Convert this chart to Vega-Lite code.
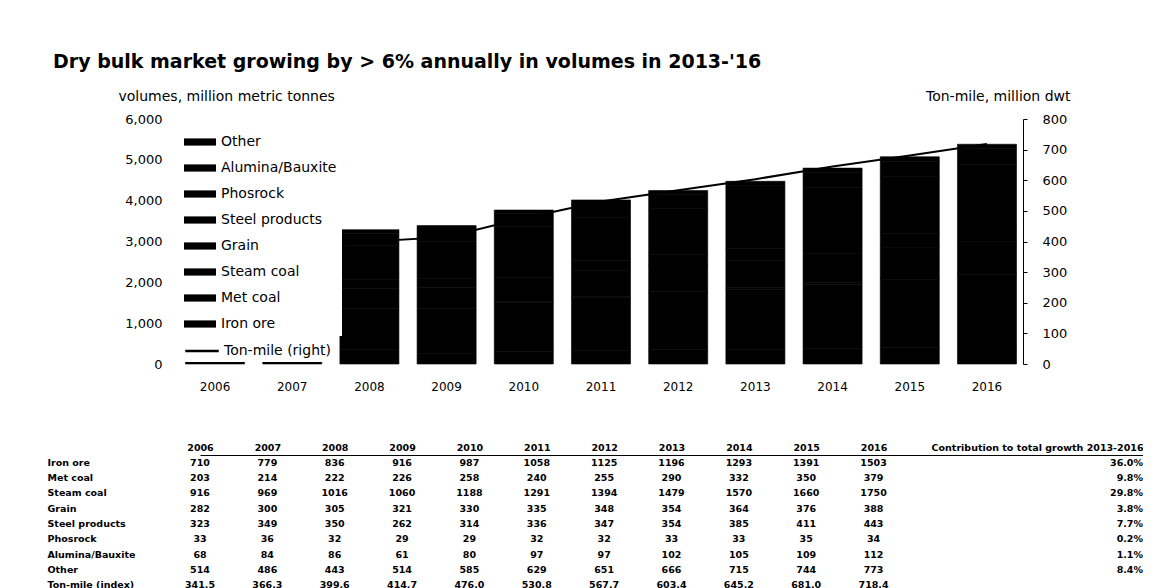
{
  "$schema": "https://vega.github.io/schema/vega-lite/v6.json",
  "background": "white",
  "padding": {"left": 47, "top": 53, "right": 0, "bottom": 0},
  "bounds": "flush",
  "spacing": 91,
  "title": {
    "text": "Dry bulk market growing by > 6% annually in volumes in 2013-'16",
    "anchor": "start",
    "font": "DejaVu Sans",
    "fontSize": 19,
    "fontWeight": "bold",
    "color": "black",
    "dx": 6,
    "offset": 17
  },
  "datasets": {
    "cargo": [
      {"cargo": "Iron ore", "2006": 710, "2007": 779, "2008": 836, "2009": 916, "2010": 987, "2011": 1058, "2012": 1125, "2013": 1196, "2014": 1293, "2015": 1391, "2016": 1503},
      {"cargo": "Met coal", "2006": 203, "2007": 214, "2008": 222, "2009": 226, "2010": 258, "2011": 240, "2012": 255, "2013": 290, "2014": 332, "2015": 350, "2016": 379},
      {"cargo": "Steam coal", "2006": 916, "2007": 969, "2008": 1016, "2009": 1060, "2010": 1188, "2011": 1291, "2012": 1394, "2013": 1479, "2014": 1570, "2015": 1660, "2016": 1750},
      {"cargo": "Grain", "2006": 282, "2007": 300, "2008": 305, "2009": 321, "2010": 330, "2011": 335, "2012": 348, "2013": 354, "2014": 364, "2015": 376, "2016": 388},
      {"cargo": "Steel products", "2006": 323, "2007": 349, "2008": 350, "2009": 262, "2010": 314, "2011": 336, "2012": 347, "2013": 354, "2014": 385, "2015": 411, "2016": 443},
      {"cargo": "Phosrock", "2006": 33, "2007": 36, "2008": 32, "2009": 29, "2010": 29, "2011": 32, "2012": 32, "2013": 33, "2014": 33, "2015": 35, "2016": 34},
      {"cargo": "Alumina/Bauxite", "2006": 68, "2007": 84, "2008": 86, "2009": 61, "2010": 80, "2011": 97, "2012": 97, "2013": 102, "2014": 105, "2015": 109, "2016": 112},
      {"cargo": "Other", "2006": 514, "2007": 486, "2008": 443, "2009": 514, "2010": 585, "2011": 629, "2012": 651, "2013": 666, "2014": 715, "2015": 744, "2016": 773}
    ],
    "tonmile": [
      {"year": "2006", "tonmile": 341.5},
      {"year": "2007", "tonmile": 366.3},
      {"year": "2008", "tonmile": 399.6},
      {"year": "2009", "tonmile": 414.7},
      {"year": "2010", "tonmile": 476.0},
      {"year": "2011", "tonmile": 530.8},
      {"year": "2012", "tonmile": 567.7},
      {"year": "2013", "tonmile": 603.4},
      {"year": "2014", "tonmile": 645.2},
      {"year": "2015", "tonmile": 681.0},
      {"year": "2016", "tonmile": 718.4}
    ],
    "contrib": [
      {"cargo": "Iron ore", "share": 0.360},
      {"cargo": "Met coal", "share": 0.098},
      {"cargo": "Steam coal", "share": 0.298},
      {"cargo": "Grain", "share": 0.038},
      {"cargo": "Steel products", "share": 0.077},
      {"cargo": "Phosrock", "share": 0.002},
      {"cargo": "Alumina/Bauxite", "share": 0.011},
      {"cargo": "Other", "share": 0.084}
    ]
  },
  "vconcat": [
    {
      "width": 873,
      "height": 245,
      "layer": [
        {
          "data": {"name": "cargo"},
          "transform": [{"fold": ["2006", "2007", "2008", "2009", "2010", "2011", "2012", "2013", "2014", "2015", "2016"], "as": ["year", "value"]}],
          "mark": {"type": "bar", "stroke": "black", "strokeWidth": 0.6},
          "encoding": {
            "x": {
              "field": "year", "type": "ordinal",
              "scale": {"type": "band", "range": [35.5, 866.5], "paddingInner": 0.235, "paddingOuter": 0},
              "axis": {"title": null, "domain": false, "ticks": false, "labelAngle": 0, "labelFontSize": 12, "labelPadding": 17, "labelColor": "black", "labelOverlap": false}
            },
            "y": {
              "field": "value", "type": "quantitative", "stack": "zero",
              "scale": {"domain": [0, 6000], "nice": false},
              "axis": {
                "orient": "left", "title": "volumes, million metric tonnes",
                "titleAngle": 0, "titleAlign": "left", "titleBaseline": "middle",
                "titleX": -48, "titleY": -23, "titleFontSize": 14, "titleFontWeight": "normal", "titleColor": "black",
                "domain": false, "ticks": false, "grid": false,
                "values": [0, 1000, 2000, 3000, 4000, 5000, 6000], "format": ",.0f",
                "labelFontSize": 13, "labelColor": "black", "offset": -16, "labelPadding": 4
              }
            },
            "color": {
              "field": "cargo", "type": "nominal",
              "scale": {
                "domain": ["Other", "Alumina/Bauxite", "Phosrock", "Steel products", "Grain", "Steam coal", "Met coal", "Iron ore"],
                "range": ["black", "black", "black", "black", "black", "black", "black", "black"]
              },
              "legend": {
                "orient": "none", "legendX": 33, "legendY": 6, "title": null,
                "fillColor": "white", "padding": 5,
                "symbolType": "M-1.333,-0.3H1.333V0.3H-1.333Z", "symbolSize": 576, "symbolStrokeWidth": 0,
                "labelFontSize": 14, "labelColor": "black", "labelOffset": 9, "rowPadding": 7, "labelLimit": 300
              }
            },
            "order": {"field": "cargo", "sort": "descending"}
          }
        },
        {
          "data": {"name": "tonmile"},
          "mark": {"type": "line", "strokeWidth": 2},
          "encoding": {
            "x": {"field": "year", "type": "ordinal"},
            "y": {
              "field": "tonmile", "type": "quantitative",
              "scale": {"domain": [0, 800], "nice": false},
              "axis": {
                "orient": "right", "title": "Ton-mile, million dwt",
                "titleAngle": 0, "titleAlign": "right", "titleBaseline": "middle",
                "titleX": 47, "titleY": -23, "titleFontSize": 14, "titleFontWeight": "normal", "titleColor": "black",
                "domain": true, "domainColor": "black", "ticks": true, "tickSize": 4, "tickColor": "black", "grid": false,
                "values": [0, 100, 200, 300, 400, 500, 600, 700, 800],
                "labelFontSize": 13, "labelColor": "black", "labelPadding": 15
              }
            },
            "stroke": {
              "datum": "Ton-mile (right)",
              "scale": {"range": ["black"]},
              "legend": {
                "orient": "none", "legendX": 35, "legendY": 215, "title": null,
                "fillColor": "white", "padding": 4,
                "symbolType": "M-1.333,-0.05H1.333V0.05H-1.333Z", "symbolSize": 576, "symbolStrokeWidth": 1.5,
                "symbolStrokeColor": "black", "symbolFillColor": "black",
                "labelFontSize": 14, "labelColor": "black", "labelOffset": 9, "labelLimit": 300
              }
            }
          }
        }
      ],
      "resolve": {"scale": {"y": "independent"}}
    },
    {
      "width": 993,
      "height": 138,
      "layer": [
        {
          "data": {"name": "cargo"},
          "transform": [{"fold": ["2006", "2007", "2008", "2009", "2010", "2011", "2012", "2013", "2014", "2015", "2016"], "as": ["year", "value"]}],
          "mark": {"type": "text", "fontWeight": "bold", "fontSize": 9.5, "color": "black", "baseline": "middle"},
          "encoding": {
            "x": {
              "field": "year", "type": "nominal",
              "scale": {"type": "point", "padding": 0, "domain": ["2006", "2007", "2008", "2009", "2010", "2011", "2012", "2013", "2014", "2015", "2016", " ", "  ", "   ", "Contribution to total growth 2013-2016"], "range": [50, 993]},
              "axis": {
                "orient": "top", "title": null, "ticks": false, "domain": true, "domainColor": "black", "domainWidth": 1,
                "labelAngle": 0, "labelFontWeight": "bold", "labelFontSize": 9.5, "labelColor": "black", "labelPadding": 3,
                "labelOverlap": false, "labelBound": false, "labelLimit": 400,
                "labelAlign": {"condition": {"test": "datum.value === 'Contribution to total growth 2013-2016'", "value": "right"}, "value": "center"}
              }
            },
            "y": {
              "field": "cargo", "type": "nominal",
              "scale": {"type": "band", "domain": ["Iron ore", "Met coal", "Steam coal", "Grain", "Steel products", "Phosrock", "Alumina/Bauxite", "Other", "Ton-mile (index)"], "paddingInner": 0, "paddingOuter": 0},
              "axis": {"orient": "left", "title": null, "ticks": false, "domain": false, "labelAlign": "left", "labelPadding": 103, "labelFontWeight": "bold", "labelFontSize": 9.5, "labelColor": "black", "labelLimit": 200, "labelOverlap": false}
            },
            "text": {"field": "value", "type": "quantitative", "format": "d"}
          }
        },
        {
          "data": {"name": "tonmile"},
          "mark": {"type": "text", "fontWeight": "bold", "fontSize": 9.5, "color": "black", "baseline": "middle"},
          "encoding": {
            "x": {"field": "year", "type": "nominal"},
            "y": {"datum": "Ton-mile (index)", "type": "nominal"},
            "text": {"field": "tonmile", "type": "quantitative", "format": ".1f"}
          }
        },
        {
          "data": {"name": "contrib"},
          "mark": {"type": "text", "fontWeight": "bold", "fontSize": 9.5, "color": "black", "baseline": "middle", "align": "right"},
          "encoding": {
            "x": {"datum": "Contribution to total growth 2013-2016", "type": "nominal"},
            "y": {"field": "cargo", "type": "nominal"},
            "text": {"field": "share", "type": "quantitative", "format": ".1%"}
          }
        }
      ]
    }
  ],
  "config": {
    "view": {"stroke": null},
    "font": "DejaVu Sans",
    "axis": {"grid": false, "labelFont": "DejaVu Sans", "titleFont": "DejaVu Sans"},
    "legend": {"labelFont": "DejaVu Sans"}
  }
}
